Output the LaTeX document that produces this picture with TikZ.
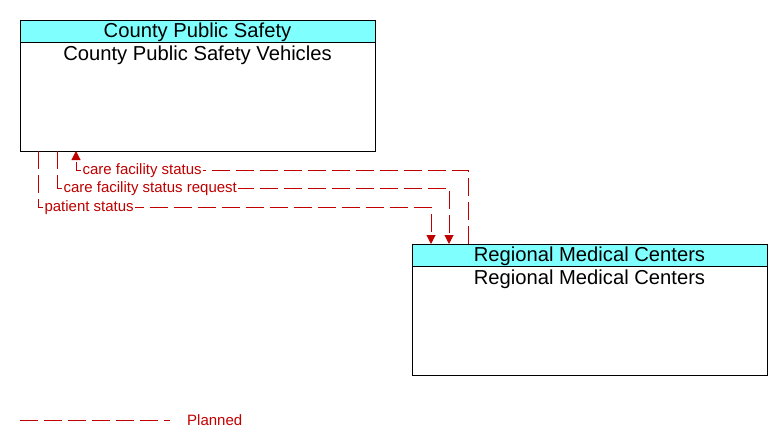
\documentclass[tikz,border=0pt]{standalone}
\usepackage{fontspec}
\setmainfont{Liberation Sans}
\usetikzlibrary{positioning}
\usetikzlibrary{arrows.meta}
\definecolor{flowred}{RGB}{192,0,0}
\definecolor{headcyan}{RGB}{128,255,255}

\tikzset{
  head/.style={draw, line width=1pt, fill=headcyan, minimum width=355pt, minimum height=22pt, inner sep=0pt, outer sep=0pt},
  body/.style={draw, line width=1pt, minimum width=355pt, minimum height=109pt, inner sep=0pt, outer sep=0pt},
  boxtext/.style={inner sep=0pt, font=\fontsize{20.2}{22}\selectfont},
  flow/.style={flowred, line width=1pt, dash pattern=on 18pt off 6pt},
  tip/.style={-{Triangle[width=9pt,length=9pt]}},
  flowlabel/.style={fill=white, text=flowred, inner sep=1.5pt, anchor=west, xshift=4.5pt, yshift=-0.5pt, font=\fontsize{15}{16}\selectfont}
}

\begin{document}
\begin{tikzpicture}[x=1pt, y=-1pt]
\useasboundingbox (0,0) rectangle (782,447);

% boxes
{
\node[head] (cpshead) at (197.5,31) {};
\node[boxtext] (cpstitle) at (197.5,32) {County Public Safety};
\node[body, below=0pt of cpshead] (cpsv) {};
\node[boxtext] (cpsvtext) at (197.5,55) {County Public Safety Vehicles};

\node[head] (rmchead) at (589.5,255) {};
\node[boxtext] (rmctitle) at (589.5,256) {Regional Medical Centers};
\node[body, below=0pt of rmchead] (rmc) {};
\node[boxtext] (rmctext) at (589.5,279) {Regional Medical Centers};
}

% flows
{
\draw[flow, tip] ([xshift=56pt]rmchead.north west) |- ([xshift=56pt, yshift=-19pt]cpsv.south west)
  node[flowlabel] (cfslabel) {care facility status} -- ([xshift=56pt]cpsv.south west);
\draw[flow, tip] ([xshift=37pt]cpsv.south west) -- ++(0,37)
  node[flowlabel] (cfsrlabel) {care facility status request} -| ([xshift=37pt]rmchead.north west);
\draw[flow, tip] ([xshift=18pt]cpsv.south west) -- ++(0,56)
  node[flowlabel] (pslabel) {patient status} -| ([xshift=19pt]rmchead.north west);
}

% legend
{
\coordinate (legstart) at (20,420);
\coordinate (legend) at (170,420);
\draw[flow] (legstart) -- (legend);
\node[right=17pt of legend, inner sep=0pt, text=flowred, font=\fontsize{15}{16}\selectfont] (planned) {Planned};
}

\end{tikzpicture}
\end{document}
